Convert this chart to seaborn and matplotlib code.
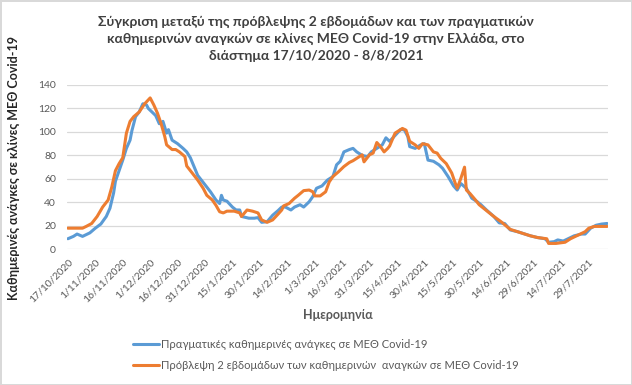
# Comparison of 2-week forecast vs actual daily ICU needs (Greece)
import numpy as np
import matplotlib.pyplot as plt
import pandas as pd
import seaborn as sns
sns.set_style("whitegrid")
plt.rcParams['font.family'] = ['Lato', 'DejaVu Sans']

actual_dates = ['2020-10-17', '2020-10-20', '2020-10-22', '2020-10-25', '2020-10-29',
                '2020-11-01', '2020-11-04', '2020-11-07', '2020-11-09', '2020-11-11',
                '2020-11-12', '2020-11-14', '2020-11-16', '2020-11-18', '2020-11-20',
                '2020-11-21', '2020-11-23', '2020-11-25', '2020-11-27', '2020-11-29',
                '2020-11-30', '2020-12-02', '2020-12-04', '2020-12-06', '2020-12-08',
                '2020-12-10', '2020-12-11', '2020-12-13', '2020-12-16', '2020-12-19',
                '2020-12-21', '2020-12-23', '2020-12-25', '2020-12-27', '2020-12-29',
                '2020-12-31', '2021-01-03', '2021-01-06', '2021-01-08', '2021-01-09',
                '2021-01-10', '2021-01-12', '2021-01-15', '2021-01-17', '2021-01-19',
                '2021-01-20', '2021-01-24', '2021-01-27', '2021-01-29', '2021-01-31',
                '2021-02-03', '2021-02-06', '2021-02-09', '2021-02-11', '2021-02-13',
                '2021-02-16', '2021-02-18', '2021-02-21', '2021-02-23', '2021-02-26',
                '2021-02-28', '2021-03-02', '2021-03-05', '2021-03-08', '2021-03-11',
                '2021-03-13', '2021-03-15', '2021-03-17', '2021-03-20', '2021-03-22',
                '2021-03-24', '2021-03-27', '2021-03-30', '2021-04-01', '2021-04-04',
                '2021-04-07', '2021-04-09', '2021-04-11', '2021-04-14', '2021-04-17',
                '2021-04-19', '2021-04-21', '2021-04-22', '2021-04-25', '2021-04-28',
                '2021-04-30', '2021-05-02', '2021-05-05', '2021-05-08', '2021-05-10',
                '2021-05-13', '2021-05-16', '2021-05-18', '2021-05-20', '2021-05-23',
                '2021-05-26', '2021-05-29', '2021-05-31', '2021-06-03', '2021-06-07',
                '2021-06-10', '2021-06-13', '2021-06-16', '2021-06-20', '2021-06-24',
                '2021-06-27', '2021-07-01', '2021-07-05', '2021-07-07', '2021-07-10',
                '2021-07-12', '2021-07-15', '2021-07-17', '2021-07-21', '2021-07-25',
                '2021-07-27', '2021-07-30', '2021-08-02', '2021-08-05', '2021-08-08']
actual_values = [9, 11, 13, 11, 14,
                 18, 21.5, 28, 35, 48,
                 58, 67, 76, 86, 93,
                 101, 113, 117, 124, 123,
                 120, 117, 114, 107, 109,
                 99, 102, 93, 90, 86,
                 83, 78, 70.5, 63, 59,
                 55, 49, 42, 39, 46,
                 42, 41, 36, 33.5, 33.5,
                 28, 26.5, 26.5, 27, 23,
                 23.5, 29, 33, 36, 36,
                 33.5, 36, 38, 36, 40.5,
                 45, 52, 54, 59, 62,
                 72, 75, 83, 85, 86,
                 83, 80, 79, 83, 86,
                 89, 95, 92, 97, 102,
                 102, 96, 87.5, 86, 89,
                 90, 76, 75, 72, 69,
                 62, 54, 50.5, 56, 52,
                 43.5, 40.5, 38, 33.5, 28,
                 22.5, 22, 16.5, 15, 13,
                 11.5, 10, 9, 6, 6.5,
                 8, 7, 8.5, 11.5, 13,
                 13, 18, 20.5, 21.5, 22]

# 2-week forecast of daily ICU needs
forecast_dates = ['2020-10-17', '2020-10-25', '2020-10-27', '2020-10-30', '2020-11-02',
                  '2020-11-05', '2020-11-08', '2020-11-10', '2020-11-12', '2020-11-14',
                  '2020-11-16', '2020-11-18', '2020-11-20', '2020-11-22', '2020-11-25',
                  '2020-11-28', '2020-12-01', '2020-12-03', '2020-12-05', '2020-12-07',
                  '2020-12-09', '2020-12-10', '2020-12-13', '2020-12-15', '2020-12-17',
                  '2020-12-20', '2020-12-21', '2020-12-24', '2020-12-27', '2020-12-30',
                  '2021-01-01', '2021-01-04', '2021-01-06', '2021-01-08', '2021-01-10',
                  '2021-01-12', '2021-01-16', '2021-01-19', '2021-01-20', '2021-01-23',
                  '2021-01-26', '2021-01-29', '2021-01-31', '2021-02-03', '2021-02-06',
                  '2021-02-09', '2021-02-11', '2021-02-12', '2021-02-15', '2021-02-18',
                  '2021-02-20', '2021-02-23', '2021-02-26', '2021-02-28', '2021-03-01',
                  '2021-03-04', '2021-03-07', '2021-03-09', '2021-03-11', '2021-03-14',
                  '2021-03-17', '2021-03-20', '2021-03-22', '2021-03-25', '2021-03-27',
                  '2021-03-28', '2021-03-31', '2021-04-02', '2021-04-04', '2021-04-06',
                  '2021-04-08', '2021-04-10', '2021-04-11', '2021-04-14', '2021-04-18',
                  '2021-04-20', '2021-04-22', '2021-04-25', '2021-04-27', '2021-04-29',
                  '2021-05-02', '2021-05-05', '2021-05-07', '2021-05-09', '2021-05-12',
                  '2021-05-15', '2021-05-17', '2021-05-18', '2021-05-20', '2021-05-22',
                  '2021-05-23', '2021-05-25', '2021-05-28', '2021-05-30', '2021-06-03',
                  '2021-06-07', '2021-06-11', '2021-06-16', '2021-06-20', '2021-06-24',
                  '2021-06-27', '2021-07-01', '2021-07-06', '2021-07-07', '2021-07-11',
                  '2021-07-16', '2021-07-19', '2021-07-23', '2021-07-27', '2021-07-29',
                  '2021-08-01', '2021-08-08']
forecast_values = [18, 18, 19.5, 22, 28,
                   36, 42, 53, 67, 73,
                   78, 99, 109, 113, 117,
                   124, 129, 123, 116, 107,
                   96, 89, 85, 85, 83,
                   79, 71, 65, 59, 52,
                   46, 42, 37.5, 32, 31,
                   32.5, 32.5, 31, 28, 33.5,
                   32.5, 31, 25, 23, 25,
                   30, 33.5, 37, 39, 43.5,
                   46, 50, 50.5, 49, 45.5,
                   45.5, 49, 57.5, 62, 66,
                   70.5, 74, 75.5, 78.5, 80.5,
                   74.5, 80.5, 82, 91, 87.5,
                   83, 86, 88, 99, 103,
                   101.5, 92, 89, 86, 90,
                   89, 83, 82, 77.5, 73,
                   65, 56, 52, 60.5, 70,
                   50.5, 47.5, 42, 38, 33,
                   28, 23.5, 17, 15, 13,
                   11.5, 10, 9, 5, 5,
                   6, 9, 12, 15, 18,
                   19.5, 19.5]

series_labels = ['Πραγματικές καθημερινές ανάγκες σε ΜΕΘ Covid-19',
                 'Πρόβλεψη 2 εβδομάδων των καθημερινών  αναγκών σε ΜΕΘ Covid-19']
colors = ['#5B9BD5', '#ED7D31']
y_ticks = [0, 20, 40, 60, 80, 100, 120, 140]
start, end = '2020-10-17', '2021-08-08'

df = pd.concat([
    pd.DataFrame({'date': pd.to_datetime(actual_dates), 'value': actual_values, 'series': series_labels[0]}),
    pd.DataFrame({'date': pd.to_datetime(forecast_dates), 'value': forecast_values, 'series': series_labels[1]}),
])

fig = plt.figure(figsize=(6.32, 3.85), dpi=100)
ax = fig.add_axes([67 / 632, 1 - 249.3 / 385, 541 / 632, 164.3 / 385])
sns.lineplot(data=df, x='date', y='value', hue='series', palette=colors,
             linewidth=2.2, ax=ax)

# axes styling, Excel look
ax.set_ylim(0, 140)
ax.set_yticks(y_ticks)
ax.set_xlim(pd.Timestamp(start) - pd.Timedelta(days=0.5), pd.Timestamp(end) + pd.Timedelta(days=0.5))
tick_dates = pd.date_range(start, end, freq='15D')
ax.set_xticks(tick_dates)
ax.set_xticklabels([f'{d.day}/{d.month}/{d.year}' for d in tick_dates],
                   rotation=45, ha='right', va='top', rotation_mode='anchor')
ax.grid(axis='x', visible=False)
ax.grid(axis='y', color='#D9D9D9', linewidth=0.9)
for s in ax.spines.values():
    s.set_visible(False)
ax.tick_params(axis='both', length=0, labelsize=7.5, labelcolor='#595959')
ax.tick_params(axis='x', pad=6)
ax.tick_params(axis='y', pad=8)
ax.set_xlabel('Ημερομηνία', fontsize=9, fontweight='bold', color='#595959', labelpad=3)
ax.set_ylabel('')
fig.text(14 / 632, 1 - 168 / 385, 'Καθημερινές ανάγκες σε κλίνες ΜΕΘ Covid-19',
         rotation=90, ha='center', va='center', fontsize=9, fontweight='bold', color='#262626')

fig.text(316 / 632, 1 - 39 / 385,
         'Σύγκριση μεταξύ της πρόβλεψης 2 εβδομάδων και των πραγματικών\n'
         'καθημερινών αναγκών σε κλίνες ΜΕΘ Covid-19 στην Ελλάδα, στο\n'
         'διάστημα 17/10/2020 - 8/8/2021',
         ha='center', va='center', fontsize=10, fontweight='bold', color='#404040',
         linespacing=1.5)

handles, labels = ax.get_legend_handles_labels()
ax.get_legend().remove()
fig.legend(handles, labels, loc='upper left', bbox_to_anchor=(127 / 632, 1 - 333 / 385),
           frameon=False, fontsize=8, labelcolor='#595959', handlelength=2.4,
           handletextpad=0.2, labelspacing=0.9, borderpad=0)

fig.patch.set_edgecolor('#D9D9D9')
fig.patch.set_linewidth(2)
fig.savefig('out.png', dpi=100)
